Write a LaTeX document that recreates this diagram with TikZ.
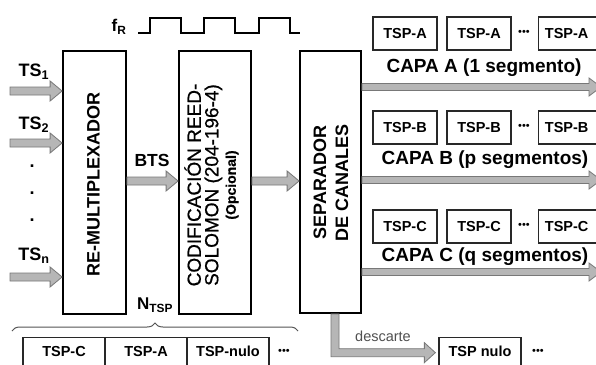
\documentclass[tikz,border=0pt]{standalone}
\usepackage{fontspec}
\setmainfont{Liberation Sans}
\newfontfamily\medfont[FakeBold=0.7]{Liberation Sans}
\usetikzlibrary{calc,decorations.pathreplacing}
\definecolor{arrfill}{RGB}{182,182,182}
\definecolor{arrline}{RGB}{120,120,120}
\definecolor{boxline}{RGB}{40,40,40}
\definecolor{txtgray}{RGB}{80,80,80}
\newcommand{\fatarrow}[4]{%
  \path[fatarr] let \p1=#1, \p2=#2 in
    (\x1,{\y1+#3}) -- ({\x2-12pt},{\y1+#3}) -- ({\x2-12pt},{\y1+#4}) -- (\x2,\y1)
    -- ({\x2-12pt},{\y1-#4}) -- ({\x2-12pt},{\y1-#3}) -- (\x1,{\y1-#3}) -- cycle;}
\tikzset{
  fatarr/.style={fill=arrfill, draw=arrline, line width=0.8pt},
  blk/.style={draw=black, line width=1.8pt, fill=white, inner sep=0pt},
  tspbox/.style={draw=boxline, line width=1.3pt, inner sep=0pt, minimum width=64pt, minimum height=33pt,
    font=\fontsize{14.5}{16}\selectfont\bfseries},
  rowbox/.style={draw=boxline, line width=1.3pt, inner xsep=0pt, inner ysep=8pt, text height=11pt, text depth=3pt,
    minimum width=82pt, anchor=north, font=\fontsize{14.5}{16}\selectfont\bfseries},
  capa/.style={font=\fontsize{19}{21}\selectfont\bfseries, inner sep=0pt},
  lbl/.style={font=\fontsize{18}{20}\selectfont\bfseries, inner sep=0pt},
  dots/.style={font=\fontsize{11}{13}\selectfont, inner sep=0pt},
}
\begin{document}
\begin{tikzpicture}[x=1pt,y=-1pt]
\useasboundingbox (0,0) rectangle (596,364);
\clip (0,0) rectangle (596,364);
\fill[white] (0,0) rectangle (596,364);

% clock
\node[font=\fontsize{17}{19}\selectfont\bfseries, inner sep=0pt] (fr) at (119,27) {f\textsubscript{R}};
\draw[line width=1.8pt] (138,33) -- (150,33) -- (150,18) -- (181,18) -- (181,33) -- (204,33) -- (204,18)
  -- (235,18) -- (235,33) -- (259,33) -- (259,18) -- (290,18) -- (290,33) -- (300,33);

% main blocks
\node[blk, minimum width=63pt, minimum height=263pt] (remux) at (94.5,182.5) {};
\node[blk, minimum width=72pt, minimum height=263pt] (rs) at (215,182.5) {};
\node[blk, minimum width=61pt, minimum height=262pt] (sep) at (330.5,182) {};
\node[lbl, rotate=90] (remuxt) at (93.5,184.5) {RE-MULTIPLEXADOR};
\node[rotate=90, align=center, inner sep=0pt, font=\medfont\fontsize{19}{17.5}\selectfont] (rst) at (211.5,185)
  {CODIFICACIÓN REED-\\SOLOMON (204-196-4)\\{\fontsize{14}{15}\selectfont\bfseries (Opcional)}};
\node[lbl, rotate=90, align=center, font=\fontsize{18}{22}\selectfont\bfseries] (sept) at (331,182.5) {SEPARADOR\\DE CANALES};

% inputs
\coordinate (in1) at (10,91);
\coordinate (in2) at (10,143);
\coordinate (inn) at (10,277);
\fatarrow{(in1)}{(remux.west |- in1)}{4pt}{10pt}
\fatarrow{(in2)}{(remux.west |- in2)}{4pt}{10pt}
\fatarrow{(inn)}{(remux.west |- inn)}{4pt}{10pt}
\node[lbl] (ts1) at (34,72) {TS\textsubscript{1}};
\node[lbl] (ts2) at (34,125) {TS\textsubscript{2}};
\node[lbl] (tsn) at (34,256) {TS\textsubscript{n}};
\node[lbl] (d1) at (32,166) {.};
\node[lbl] (d2) at (32,193) {.};
\node[lbl] (d3) at (32,220) {.};

% BTS
\coordinate (ybts) at (0,181);
\fatarrow{(remux.east |- ybts)}{(rs.west |- ybts)}{4pt}{10pt}
\node[font=\fontsize{17.5}{19}\selectfont\bfseries, inner sep=0pt] (bts) at (152,160) {BTS};
\fatarrow{(rs.east |- ybts)}{(sep.west |- ybts)}{4pt}{10pt}

% outputs
\coordinate (ya) at (601,87);
\coordinate (yb) at (601,180);
\coordinate (yc) at (601,272);
\fatarrow{(sep.east |- ya)}{(ya)}{3.5pt}{9pt}
\fatarrow{(sep.east |- yb)}{(yb)}{3.5pt}{9pt}
\fatarrow{(sep.east |- yc)}{(yc)}{3.5pt}{9pt}

\node[tspbox] (a1) at (405,33.5) {TSP-A};
\node[tspbox] (a2) at (479,33.5) {TSP-A};
\node[dots] (ad) at (524,33) {•••};
\node[tspbox, anchor=west] (a3) at (538,33.5) {\hspace*{2pt}TSP-A\hspace*{10pt}};
\node[capa] (capaa) at (484,68) {CAPA A (1 segmento)};

\node[tspbox] (b1) at (405,127.5) {TSP-B};
\node[tspbox] (b2) at (479,127.5) {TSP-B};
\node[dots] (bd) at (524,127) {•••};
\node[tspbox, anchor=west] (b3) at (538,127.5) {\hspace*{2pt}TSP-B\hspace*{10pt}};
\node[capa] (capab) at (485,160) {CAPA B (p segmentos)};

\node[tspbox] (c1) at (405,226.5) {TSP-C};
\node[tspbox] (c2) at (479,226.5) {TSP-C};
\node[dots] (cd) at (524,226) {•••};
\node[tspbox, anchor=west] (c3) at (538,226.5) {\hspace*{2pt}TSP-C\hspace*{10pt}};
\node[capa] (capac) at (485,257) {CAPA C (q segmentos)};

% discard
\node[rowbox] (nulo) at (480,337) {TSP nulo};
\node[dots] (nd) at (538,352) {•••};
\coordinate (dstem) at ($(sep.south)+(4.5,0)$);
\path[fatarr] let \p1=(dstem), \p2=($(nulo.west)+(-3,0)$) in
  ({\x1-4pt},\y1) -- ({\x1+4pt},\y1) -- ({\x1+4pt},{\y2+4pt}) -- ({\x2-11pt},{\y2+4pt})
  -- ({\x2-11pt},{\y2+10pt}) -- (\x2,\y2) -- ({\x2-11pt},{\y2-10pt}) -- ({\x2-11pt},{\y2-4pt})
  -- ({\x1-4pt},{\y2-4pt}) -- cycle;
\node[font=\fontsize{14.5}{16}\selectfont, text=txtgray, inner sep=0pt] (desc) at (383,336) {descarte};

% N_TSP and packet row
\node[font=\fontsize{17}{19}\selectfont\bfseries, inner sep=0pt] (ntsp) at (155,305) {N\textsubscript{TSP}};
\draw[draw=arrline!70!black, line width=1pt, decorate, decoration={brace, amplitude=8pt, aspect=0.5}]
  (12,331) -- (298,331);
\node[rowbox] (p1) at (64,337) {TSP-C};
\node[rowbox] (p2) at (146,337) {TSP-A};
\node[rowbox] (p3) at (228,337) {TSP-nulo};
\node[dots] (pd) at (284,352) {•••};
\end{tikzpicture}
\end{document}
